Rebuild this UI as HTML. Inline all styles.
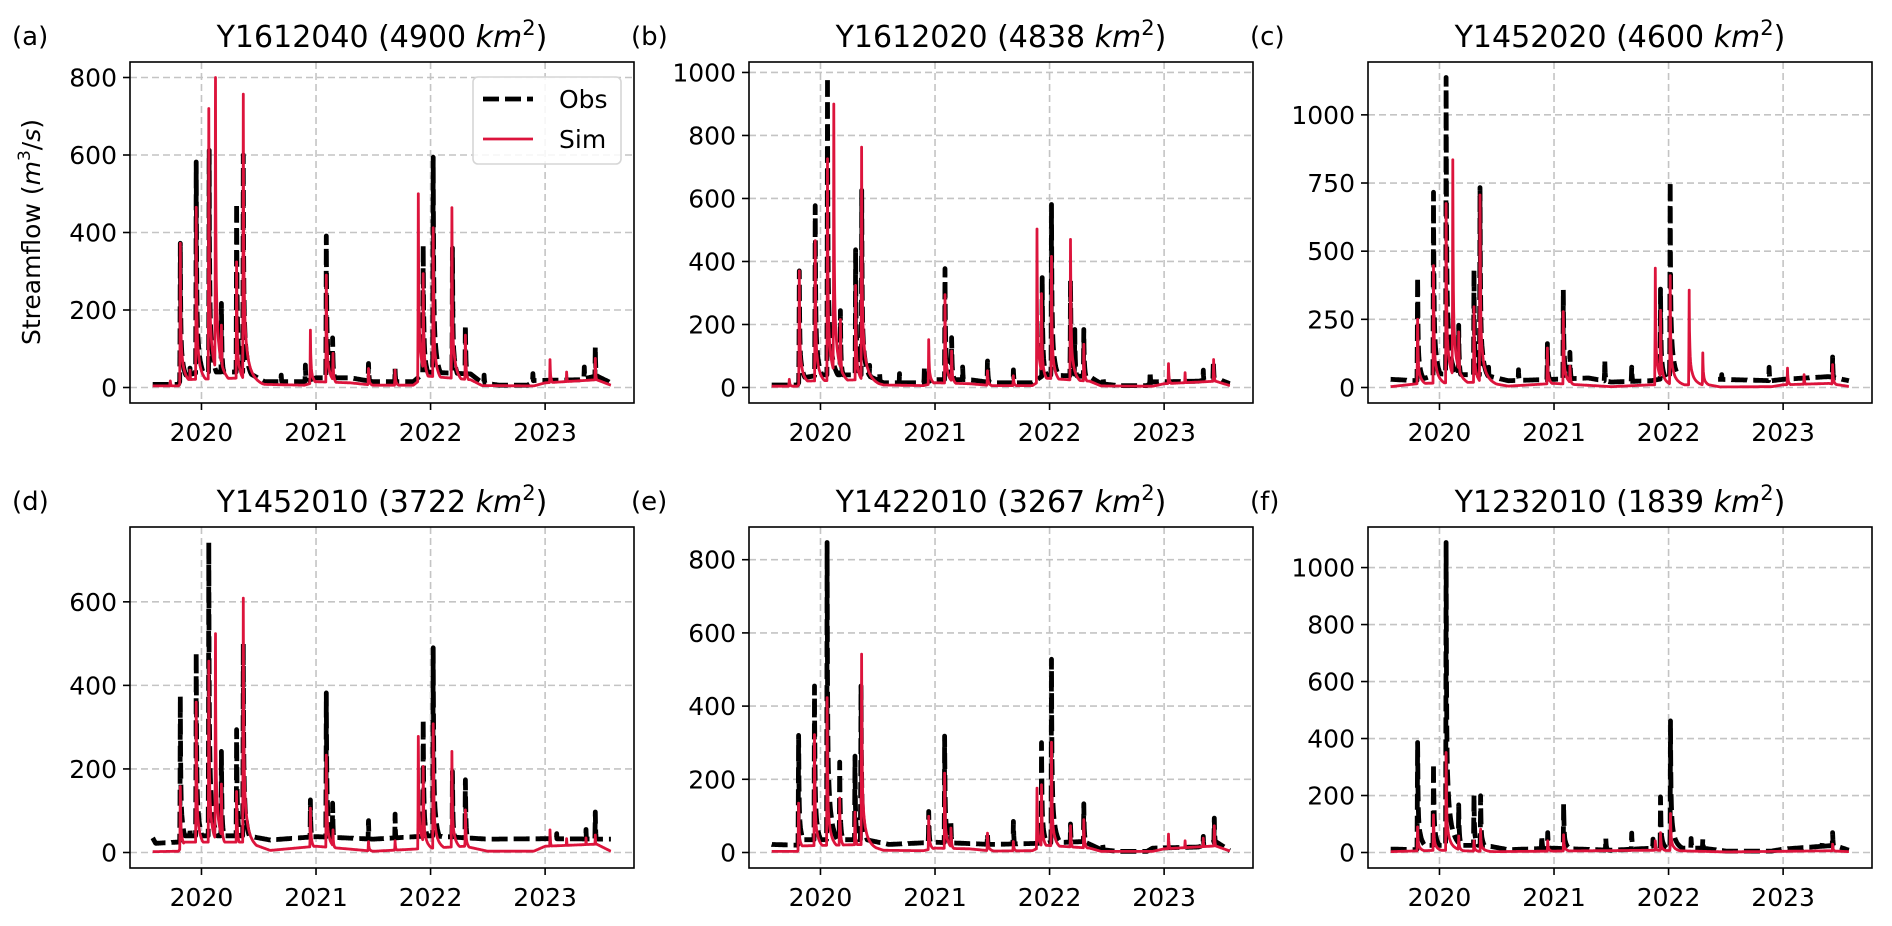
<!DOCTYPE html>
<html><head><meta charset="utf-8"><title>Streamflow Obs vs Sim</title>
<style>
html,body{margin:0;padding:0;background:#fff;width:1892px;height:926px;overflow:hidden}
svg{display:block;font-family:"DejaVu Sans","Liberation Sans",sans-serif}
</style></head>
<body>
<svg id="fig" width="1892" height="926" viewBox="0 0 1892 926" xmlns="http://www.w3.org/2000/svg">
<text transform="translate(40,232) rotate(-90)" text-anchor="middle" font-size="25" fill="#000">Streamflow (<tspan font-style="italic">m</tspan><tspan dy="-10" font-size="17">3</tspan><tspan dy="10">/</tspan><tspan font-style="italic">s</tspan>)</text>
</svg>
<script>
// ---- data (decimal year, m3/s) ----
const yearTicks = [2020, 2021, 2022, 2023];
const tStart = 2019.574, tEnd = 2023.574;

const aObsPeaks = [[2019.815,372],[2019.90,50],[2019.954,582],[2020.067,612],[2020.174,217],[2020.307,475],[2020.365,600],[2020.696,32],[2020.907,58],[2021.09,391],[2021.145,128],[2021.458,62],[2021.69,49],[2021.936,367],[2022.023,594],[2022.191,360],[2022.304,161],[2022.467,32],[2022.893,36],[2023.342,53],[2023.438,105]];
const aSimPeaks = [[2019.728,17],[2019.815,372],[2019.90,45],[2019.954,465],[2020.064,720],[2020.122,800],[2020.174,161],[2020.307,324],[2020.365,757],[2020.951,148],[2021.09,290],[2021.148,88],[2021.458,49],[2021.69,45],[2021.893,500],[2021.936,294],[2022.023,412],[2022.186,464],[2022.304,135],[2023.043,72],[2023.188,40],[2023.438,75]];
const aObsBase = [[2019.574,8],[2019.8,8],[2019.83,30],[2020.0,40],[2020.4,40],[2020.55,15],[2020.9,15],[2021.0,25],[2021.3,25],[2021.5,15],[2021.85,15],[2021.95,40],[2022.35,35],[2022.45,12],[2022.6,6],[2022.85,6],[2022.9,18],[2023.3,20],[2023.45,30],[2023.574,12]];
const aSimBase = [[2019.574,4],[2019.8,4],[2019.83,20],[2020.4,25],[2020.55,8],[2020.9,6],[2021.0,15],[2021.3,12],[2021.5,6],[2021.85,6],[2021.95,30],[2022.35,20],[2022.45,5],[2022.9,4],[2023.0,12],[2023.45,20],[2023.574,6]];

const bObsPeaks = [[2019.815,370],[2019.954,577],[2020.061,984],[2020.174,244],[2020.307,437],[2020.36,626],[2020.429,70],[2020.516,47],[2020.69,44],[2020.907,65],[2021.087,377],[2021.145,158],[2021.241,65],[2021.458,84],[2021.684,56],[2021.936,349],[2022.017,581],[2022.183,340],[2022.22,184],[2022.299,184],[2022.467,34],[2022.878,50],[2023.342,55],[2023.43,84]];
const bSimPeaks = [[2019.728,26],[2019.815,370],[2019.954,466],[2020.061,726],[2020.116,900],[2020.174,216],[2020.307,324],[2020.359,763],[2020.945,152],[2021.087,295],[2021.145,116],[2021.458,53],[2021.684,37],[2021.89,503],[2021.93,298],[2022.017,416],[2022.183,470],[2022.299,137],[2023.038,76],[2023.183,47],[2023.432,89]];
const bObsBase = [[2019.574,8],[2019.8,8],[2019.83,30],[2020.0,40],[2020.4,40],[2020.55,15],[2020.9,15],[2021.0,25],[2021.3,25],[2021.5,15],[2021.85,15],[2021.95,40],[2022.35,35],[2022.45,12],[2022.6,6],[2022.85,6],[2022.9,18],[2023.3,20],[2023.45,30],[2023.574,12]];
const bSimBase = [[2019.574,4],[2019.8,4],[2019.83,20],[2020.4,25],[2020.55,8],[2020.9,6],[2021.0,15],[2021.3,12],[2021.5,6],[2021.85,6],[2021.95,30],[2022.35,20],[2022.45,5],[2022.9,4],[2023.0,12],[2023.45,20],[2023.574,6]];

const cObsPeaks = [[2019.809,404],[2019.948,716],[2020.058,1137],[2020.168,228],[2020.301,431],[2020.354,733],[2020.429,74],[2020.69,65],[2020.942,161],[2021.081,358],[2021.139,129],[2021.443,100],[2021.678,75],[2021.93,361],[2022.014,755],[2022.464,47],[2022.878,74],[2023.432,112]];
const cSimPeaks = [[2019.809,250],[2019.948,447],[2020.058,675],[2020.116,835],[2020.168,204],[2020.301,296],[2020.354,706],[2020.942,145],[2021.081,278],[2021.139,78],[2021.884,438],[2021.93,283],[2022.014,410],[2022.18,357],[2022.299,127],[2023.038,71],[2023.183,47],[2023.432,84]];
const cObsBase = [[2019.574,30],[2019.8,25],[2020.0,50],[2020.4,45],[2020.6,25],[2021.0,30],[2021.3,35],[2021.5,20],[2021.85,25],[2022.05,40],[2022.44,30],[2022.9,25],[2023.0,30],[2023.4,40],[2023.574,25]];
const cSimBase = [[2019.574,3],[2019.83,15],[2020.4,20],[2020.6,5],[2021.0,15],[2021.3,8],[2021.5,3],[2021.85,10],[2022.35,10],[2022.45,2],[2022.9,3],[2023.0,10],[2023.4,15],[2023.574,4]];
const cObsGaps = [[2022.07,2022.43]];

const dObsPeaks = [[2019.815,374],[2019.90,58],[2019.954,478],[2020.064,742],[2020.174,242],[2020.307,294],[2020.365,500],[2020.951,126],[2021.09,382],[2021.145,118],[2021.458,76],[2021.69,92],[2021.936,318],[2022.023,490],[2022.191,194],[2022.304,174],[2023.101,45],[2023.357,55],[2023.438,97]];
const dSimPeaks = [[2019.815,158],[2019.954,360],[2020.064,458],[2020.122,524],[2020.174,164],[2020.307,146],[2020.365,609],[2020.951,106],[2021.09,233],[2021.148,54],[2021.458,26],[2021.69,28],[2021.893,278],[2021.936,206],[2022.023,308],[2022.186,242],[2022.304,102],[2023.043,54],[2023.188,33],[2023.357,35],[2023.438,42]];
const dObsBase = [[2019.574,35],[2019.6,22],[2019.8,25],[2019.85,40],[2020.4,40],[2020.6,30],[2021.0,38],[2021.5,32],[2022.0,40],[2022.5,32],[2023.0,33],[2023.574,32]];
const dSimBase = [[2019.574,2],[2019.8,3],[2019.85,25],[2020.4,25],[2020.6,5],[2021.0,15],[2021.3,8],[2021.5,3],[2021.85,8],[2022.3,15],[2022.5,3],[2022.9,3],[2023.0,15],[2023.45,20],[2023.574,3]];

const eObsPeaks = [[2019.809,320],[2019.948,455],[2020.058,847],[2020.168,247],[2020.301,263],[2020.354,455],[2020.945,112],[2021.084,318],[2021.139,80],[2021.458,50],[2021.684,85],[2021.93,300],[2022.017,528],[2022.183,78],[2022.299,133],[2022.464,21],[2023.342,44],[2023.438,94]];
const eSimPeaks = [[2019.809,135],[2019.948,322],[2020.058,423],[2020.168,149],[2020.301,110],[2020.359,542],[2020.945,99],[2021.084,217],[2021.139,67],[2021.458,53],[2021.684,30],[2021.89,176],[2021.93,185],[2022.017,301],[2022.183,73],[2022.299,90],[2023.038,50],[2023.183,32],[2023.342,39],[2023.438,73]];
const eObsBase = [[2019.574,22],[2019.8,20],[2019.85,35],[2020.4,35],[2020.6,22],[2021.0,28],[2021.5,22],[2021.9,25],[2022.3,30],[2022.45,8],[2022.6,3],[2022.85,3],[2022.9,12],[2023.3,15],[2023.45,30],[2023.574,5]];
const eSimBase = [[2019.574,3],[2019.8,3],[2019.83,18],[2020.4,22],[2020.55,6],[2020.9,5],[2021.0,12],[2021.3,10],[2021.5,4],[2021.85,5],[2021.95,20],[2022.35,12],[2022.45,3],[2022.9,3],[2023.0,10],[2023.45,18],[2023.574,4]];

const fObsPeaks = [[2019.809,386],[2019.948,312],[2020.058,1088],[2020.168,167],[2020.301,202],[2020.359,199],[2020.893,58],[2020.945,70],[2021.084,170],[2021.452,50],[2021.678,68],[2021.864,47],[2021.93,195],[2022.017,462],[2022.197,49],[2022.299,47],[2023.342,41],[2023.432,70]];
const fSimPeaks = [[2019.809,90],[2019.948,132],[2020.058,351],[2020.168,58],[2020.301,41],[2020.359,82],[2020.945,41],[2021.084,62],[2021.884,41],[2021.93,70],[2022.017,137],[2023.432,29]];
const fObsBase = [[2019.574,12],[2019.8,10],[2019.85,25],[2020.4,25],[2020.6,10],[2021.0,15],[2021.5,8],[2021.85,15],[2022.3,15],[2022.5,5],[2022.9,5],[2023.0,12],[2023.45,25],[2023.574,8]];
const fSimBase = [[2019.574,3],[2020.0,8],[2020.5,3],[2021.0,5],[2021.9,8],[2022.5,2],[2023.4,6],[2023.574,3]];

const aTicks = [0,200,400,600,800];
const bTicks = [0,200,400,600,800,1000];
const cTicks = [0,250,500,750,1000];
const dTicks = [0,200,400,600];
const eTicks = [0,200,400,600,800];
const fTicks = [0,200,400,600,800,1000];

const panelIds = ['a','b','c','d','e','f'];
const panelTitles = ['Y1612040|4900','Y1612020|4838','Y1452020|4600','Y1452010|3722','Y1422010|3267','Y1232010|1839'];

// ---- rendering ----
const NS = 'http://www.w3.org/2000/svg';
const svg = document.getElementById('fig');
function mk(tag, attrs, parent){ const e=document.createElementNS(NS,tag); for(const k in attrs) e.setAttribute(k,attrs[k]); (parent||svg).appendChild(e); return e; }

const series = {
  a:{obs:aObsPeaks,sim:aSimPeaks,ob:aObsBase,sb:aSimBase,ticks:aTicks,gaps:[]},
  b:{obs:bObsPeaks,sim:bSimPeaks,ob:bObsBase,sb:bSimBase,ticks:bTicks,gaps:[]},
  c:{obs:cObsPeaks,sim:cSimPeaks,ob:cObsBase,sb:cSimBase,ticks:cTicks,gaps:cObsGaps},
  d:{obs:dObsPeaks,sim:dSimPeaks,ob:dObsBase,sb:dSimBase,ticks:dTicks,gaps:[]},
  e:{obs:eObsPeaks,sim:eSimPeaks,ob:eObsBase,sb:eSimBase,ticks:eTicks,gaps:[]},
  f:{obs:fObsPeaks,sim:fSimPeaks,ob:fObsBase,sb:fSimBase,ticks:fTicks,gaps:[]}
};

function baseAt(base,t){
  if(t<=base[0][0]) return base[0][1];
  for(let i=1;i<base.length;i++){ if(t<=base[i][0]){ const a=base[i-1],b=base[i]; return a[1]+(b[1]-a[1])*(t-a[0])/(b[0]-a[0]); } }
  return base[base.length-1][1];
}
function valueAt(peaks,base,t){
  let v=baseAt(base,t);
  for(const p of peaks){
    const dd=(t-p[0])*365.25;
    let k=0;
    if(dd<-1.5) k=0; else if(dd<0) k=p[1]*(1+dd/1.5); else k=p[1]*(0.6*Math.exp(-dd/1.2)+0.25*Math.exp(-dd/6)+0.15*Math.exp(-dd/25));
    if(k>v) v=k;
  }
  return v;
}
function sampleTimes(peaks){
  const ts=[]; for(let t=tStart;t<=tEnd+1e-9;t+=1/365.25) ts.push(t);
  for(const p of peaks) ts.push(p[0]);
  ts.sort((x,y)=>x-y); return ts;
}
function inGap(gaps,t){ for(const g of gaps) if(t>g[0]&&t<g[1]) return true; return false; }

const colLeft=[130,749,1368], rowTop=[62,527], W=504, H=341;
const xMin=2019.376, xMax=2023.776;

panelIds.forEach((id,i)=>{
  const L=colLeft[i%3], T=rowTop[Math.floor(i/3)], s=series[id];
  const obsTs=sampleTimes(s.obs), simTs=sampleTimes(s.sim);
  const obsV=obsTs.map(t=>valueAt(s.obs,s.ob,t)), simV=simTs.map(t=>valueAt(s.sim,s.sb,t));
  const mx=Math.max(Math.max(...obsV),Math.max(...simV));
  const yLo=-0.05*mx, yHi=1.05*mx;
  const xS=t=>L+(t-xMin)/(xMax-xMin)*W;
  const yS=v=>T+H-(v-yLo)/(yHi-yLo)*H;

  const g=mk('g',{});
  
  

  yearTicks.forEach(yr=>{
    const ln=mk('line',{x1:xS(yr),x2:xS(yr),y1:T,y2:T+H,stroke:'#c4c4c4','stroke-width':1.6,'stroke-dasharray':'7 4'},g);
    
    
  });
  s.ticks.forEach(v=>{
    const ln=mk('line',{x1:L,x2:L+W,y1:yS(v),y2:yS(v),stroke:'#c4c4c4','stroke-width':1.6,'stroke-dasharray':'7 4'},g);
    
    
  });

  let segs=[], cur=[];
  obsTs.forEach((t,k)=>{ if(inGap(s.gaps,t)){ if(cur.length) segs.push(cur); cur=[]; } else cur.push(xS(t).toFixed(1)+','+yS(obsV[k]).toFixed(1)); });
  if(cur.length) segs.push(cur);
  segs.forEach(sg=>{
    const pl=mk('polyline',{points:sg.join(' '),fill:'none',stroke:'#000','stroke-width':4.8,'stroke-dasharray':'16 6','stroke-linejoin':'round'},g);
    
    
  });
  const sp=mk('polyline',{points:simTs.map((t,k)=>xS(t).toFixed(1)+','+yS(simV[k]).toFixed(1)).join(' '),fill:'none',stroke:'#dc143c','stroke-width':2.8,'stroke-linejoin':'round'},g);
  
  

  const fr=mk('rect',{x:L,y:T,width:W,height:H,fill:'none',stroke:'#000','stroke-width':1.6},g);
  
  

  yearTicks.forEach(yr=>{
    const tk=mk('line',{x1:xS(yr),x2:xS(yr),y1:T+H,y2:T+H+7,stroke:'#000','stroke-width':1.6},g);
    
    
    const tx=mk('text',{x:xS(yr),y:T+H+38,'text-anchor':'middle','font-size':25,fill:'#000'},g);
    tx.textContent=yr;
    
    
  });
  s.ticks.forEach(v=>{
    const tk=mk('line',{x1:L-7,x2:L,y1:yS(v),y2:yS(v),stroke:'#000','stroke-width':1.6},g);
    
    
    const tx=mk('text',{x:L-13,y:yS(v)+9,'text-anchor':'end','font-size':25,fill:'#000'},g);
    tx.textContent=v;
    
    
  });

  const pl2=mk('text',{x:L-118,y:T-17,'font-size':26,fill:'#000'},g);
  pl2.textContent='('+id+')';
  
  

  const parts=panelTitles[i].split('|');
  const ti=mk('text',{x:L+W/2,y:T-15,'text-anchor':'middle','font-size':30,fill:'#000'},g);
  
  
  const t1=mk('tspan',{},ti); t1.textContent=parts[0]+' ('+parts[1]+' ';
  const t2=mk('tspan',{'font-style':'italic'},ti); t2.textContent='km';
  const t3=mk('tspan',{dy:-12,'font-size':21},ti); t3.textContent='2';
  const t4=mk('tspan',{dy:12},ti); t4.textContent=')';
});

const lg=mk('g',{});


const lb=mk('rect',{x:473,y:77,width:148,height:87,rx:5,fill:'#fff','fill-opacity':0.85,stroke:'#d6d6d6','stroke-width':1.6},lg);


const lo=mk('line',{x1:483,x2:533,y1:99,y2:99,stroke:'#000','stroke-width':4.8,'stroke-dasharray':'16 6'},lg);


const lot=mk('text',{x:559,y:108,'font-size':25,fill:'#000'},lg); lot.textContent='Obs';


const ls=mk('line',{x1:483,x2:533,y1:139,y2:139,stroke:'#dc143c','stroke-width':2.8},lg);


const lst=mk('text',{x:559,y:148,'font-size':25,fill:'#000'},lg); lst.textContent='Sim';


</script>
</body></html>
